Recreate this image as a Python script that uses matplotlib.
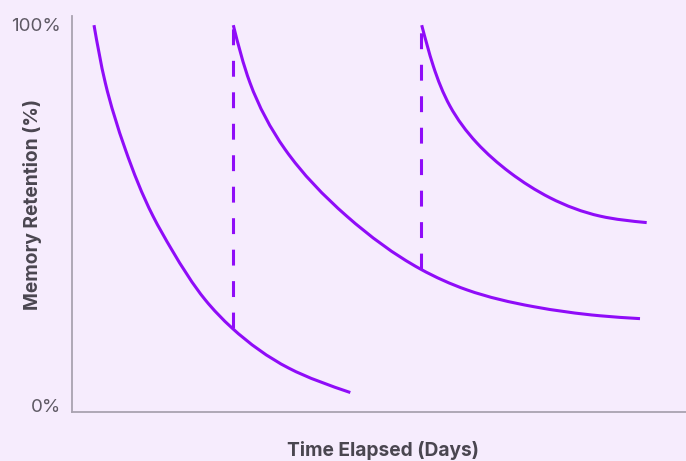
import matplotlib
matplotlib.use("Agg")
import numpy as np
import matplotlib.pyplot as plt
from matplotlib.path import Path
from matplotlib.patches import PathPatch

# ---- data (x = days, y = retention %) ----
curve1_x = [1.10, 1.665, 2.665, 4.05, 5.00, 6.665, 8.00, 10.835, 13.915]
curve1_y = [99.7, 84.6, 67.2, 49.7, 40.8, 27.75, 20.4, 9.9, 3.5]

curve2_x = [8.065, 8.90, 10.65, 13.735, 17.435, 19.735, 23.065, 26.40, 28.40]
curve2_y = [99.7, 84.6, 67.2, 49.7, 35.8, 30.4, 26.0, 23.6, 22.85]

curve3_x = [17.485, 18.065, 18.90, 20.235, 21.90, 23.90, 26.40, 28.735]
curve3_y = [99.7, 89.0, 78.5, 68.9, 61.1, 54.5, 49.7, 48.0]

review_days = [8.03, 17.45]
review_from = [20.4, 35.8]
review_to = [100.0, 100.0]

ytick_vals = [0, 100]
ytick_labels = ["0%", "100%"]
xlabel = "Time Elapsed (Days)"
ylabel = "Memory Retention (%)"

# ---- style ----
BG = "#F6ECFD"
PURPLE = "#8F0CF8"
SPINE = "#A9A2B0"
TICK_TXT = "#5E5964"
LABEL_TXT = "#4A4650"
plt.rcParams["font.family"] = ["Inter", "DejaVu Sans"]

fig = plt.figure(figsize=(6.86, 4.61), dpi=100, facecolor=BG)
ax = fig.add_axes([72 / 686, (461 - 412) / 461, (686 - 72) / 686, (412 - 16) / 461])
ax.set_facecolor(BG)
ax.set_xlim(0, (686 - 72) / 20)
ax.set_ylim(-1.6, 102.1)

lw = 2.2
SX, SY = 20.0, 3.82  # approx. pixels per data unit, used only for spline parameterisation


def smooth_path(xs, ys):
    """Natural parametric cubic spline through the data points, drawn as Bezier segments."""
    P = np.column_stack([np.asarray(xs) * SX, np.asarray(ys) * SY])
    n = len(P)
    h = np.hypot(*np.diff(P, axis=0).T)
    # second derivatives (natural end conditions)
    A = np.zeros((n, n))
    B = np.zeros((n, 2))
    A[0, 0] = A[-1, -1] = 1.0
    for i in range(1, n - 1):
        A[i, i - 1] = h[i - 1]
        A[i, i] = 2 * (h[i - 1] + h[i])
        A[i, i + 1] = h[i]
        B[i] = 6 * ((P[i + 1] - P[i]) / h[i] - (P[i] - P[i - 1]) / h[i - 1])
    M = np.linalg.solve(A, B)
    verts = [P[0]]
    codes = [Path.MOVETO]
    for i in range(n - 1):
        hi = h[i]
        sec = (P[i + 1] - P[i]) / hi
        d0 = sec - hi * (2 * M[i] + M[i + 1]) / 6
        d1 = sec + hi * (M[i] + 2 * M[i + 1]) / 6
        verts += [P[i] + d0 * hi / 3, P[i + 1] - d1 * hi / 3, P[i + 1]]
        codes += [Path.CURVE4] * 3
    verts = np.array(verts) / np.array([SX, SY])
    return Path(verts, codes)


for xs, ys in [(curve1_x, curve1_y), (curve2_x, curve2_y), (curve3_x, curve3_y)]:
    ax.add_patch(PathPatch(smooth_path(xs, ys), facecolor="none", edgecolor=PURPLE,
                           lw=lw, capstyle="butt"))

for d, lo, hi in zip(review_days, review_from, review_to):
    ax.plot([d, d], [lo, hi], color=PURPLE, lw=lw, dashes=(5.2, 5.1), dash_capstyle="butt")

ax.set_xticks([])
ax.set_yticks(ytick_vals)
ax.set_yticklabels(ytick_labels, fontsize=13.5, color=TICK_TXT)
ax.tick_params(axis="y", length=0, pad=8)

for s in ["top", "right"]:
    ax.spines[s].set_visible(False)
for s in ["left", "bottom"]:
    ax.spines[s].set_color(SPINE)
    ax.spines[s].set_linewidth(1.3)

fig.text(383 / 686, 1 - 450 / 461, xlabel, fontsize=13.8, fontweight="bold",
         color=LABEL_TXT, ha="center", va="center")
fig.text(33 / 686, 1 - 205 / 461, ylabel, fontsize=13.8, fontweight="bold",
         color=LABEL_TXT, ha="center", va="center", rotation=90)

fig.savefig("out.png", dpi=100, facecolor=BG)
